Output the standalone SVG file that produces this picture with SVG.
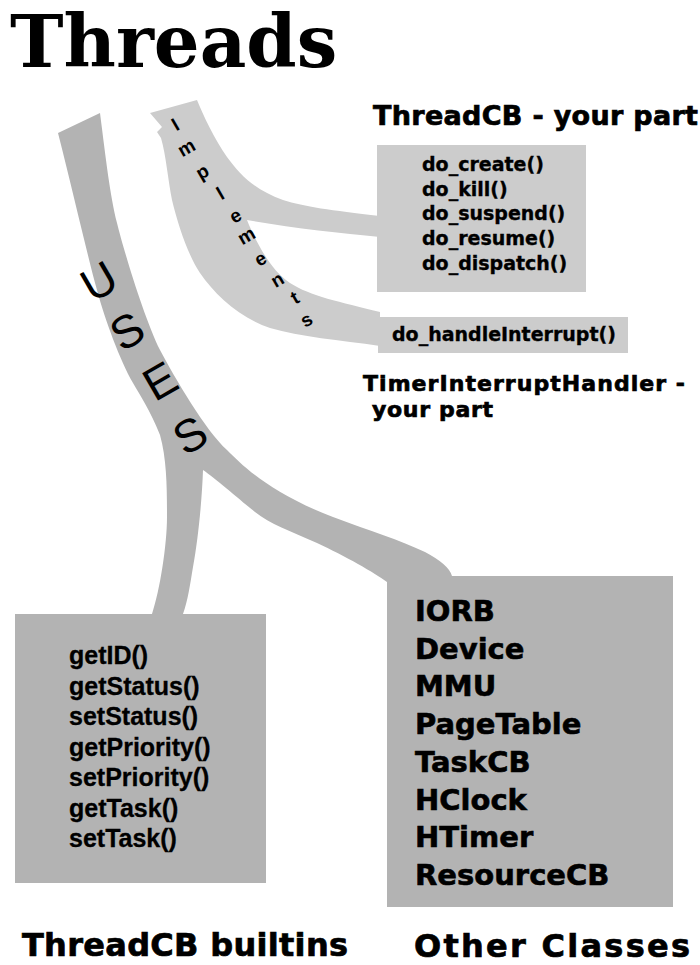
<svg xmlns="http://www.w3.org/2000/svg" width="700" height="965" viewBox="0 0 700 965">
  <style>
    .title { font-family: "DejaVu Serif", "Liberation Serif", serif; font-weight: bold; font-size: 72px; fill: #000; }
    .head { font-family: "DejaVu Sans", "Liberation Sans", sans-serif; font-weight: bold; fill: #000; stroke: #000; stroke-width: 0.7px; }
    .meth { font-family: "DejaVu Sans", "Liberation Sans", sans-serif; font-weight: bold; font-size: 19px; fill: #000; stroke: #000; stroke-width: 0.35px; }
    .api { font-family: "Liberation Sans", Arial, sans-serif; font-weight: bold; font-size: 25px; fill: #000; stroke: #000; stroke-width: 0.3px; }
    .cls { font-family: "DejaVu Sans", "Liberation Sans", sans-serif; font-weight: bold; font-size: 29px; fill: #000; stroke: #000; stroke-width: 0.6px; }
    .light { fill: #cccccc; }
    .dark { fill: #b3b3b3; }
    .impl { font-family: "Liberation Sans", Arial, sans-serif; font-weight: bold; font-size: 19px; fill: #000; text-anchor: middle; }
    .uses { font-family: "Liberation Sans", Arial, sans-serif; font-size: 46px; fill: #000; text-anchor: middle; }
  </style>

  <text id="title" class="title" x="10" y="67">Threads</text>

  <!-- ribbons linking the classes -->
  <g id="connectors">
    <!-- "USES" ribbon: one trunk splitting to the builtins and the other classes -->
    <path id="uses-band" class="dark" d="M58,133 L100,113
      C106,160 110,195 117,223
      C125,255 145,320 160,350
      C175,378 205,430 227,450
      C243,466 270,493 333,517
      C370,531 400,540 425,552
      C440,560 450,568 452,576
      L452,600 L387,600 L387,582
      C375,573 345,556 317,543
      C290,531 270,524 255,512
      C240,500 215,478 203,470
      C202,500 198,540 193,567
      C190,585 188,600 183,614
      L183,620 L150,620 L152,614
      C160,590 167,545 167,517
      C167,490 167,460 160,435
      C150,410 140,395 133,383
      C120,360 105,320 97,290
      C88,258 75,200 58,133 Z"/>
    <!-- "Implements" ribbon: forks to ThreadCB and TimerInterruptHandler -->
    <path id="implements-band" class="light" d="M150,113 L197,100
      C203,115 215,140 227,157
      C240,175 255,190 283,200
      C305,207 330,210 380,216
      L380,237
      C340,233 290,228 247,220
      C255,240 270,270 290,283
      C310,296 340,302 380,312
      L380,346
      C340,340 300,337 270,328
      C240,318 215,295 200,273
      C188,255 178,225 172,200
      C168,180 166,155 161,138
      L157,132 L162,127 Z"/>

    <g id="implements-label">
      <text class="impl" transform="translate(175,124) rotate(-30)" y="7">I</text>
      <text class="impl" transform="translate(187,149) rotate(-30)" y="5">m</text>
      <text class="impl" transform="translate(203,173) rotate(-30)" y="5">p</text>
      <text class="impl" transform="translate(220,193) rotate(-30)" y="7">l</text>
      <text class="impl" transform="translate(236,217) rotate(-30)" y="5">e</text>
      <text class="impl" transform="translate(247,237) rotate(-30)" y="5">m</text>
      <text class="impl" transform="translate(261,260) rotate(-30)" y="5">e</text>
      <text class="impl" transform="translate(278,281) rotate(-30)" y="5">n</text>
      <text class="impl" transform="translate(295,298) rotate(-30)" y="6">t</text>
      <text class="impl" transform="translate(307,321) rotate(-30)" y="5">s</text>
    </g>

    <g id="uses-label">
      <text class="uses" transform="translate(99,281) rotate(-30)" y="16">U</text>
      <text class="uses" transform="translate(127,331) rotate(-30)" y="16">S</text>
      <text class="uses" transform="translate(160,381) rotate(-30)" y="16">E</text>
      <text class="uses" transform="translate(190,435) rotate(-30)" y="16">S</text>
    </g>
  </g>

  <g id="threadcb">
    <text class="head" x="373" y="125" font-size="27" textLength="325">ThreadCB - your part</text>
    <rect class="light" x="377" y="145" width="209" height="147"/>
    <text class="meth" x="422" y="171">do_create()</text>
    <text class="meth" x="422" y="195.7">do_kill()</text>
    <text class="meth" x="422" y="220.4">do_suspend()</text>
    <text class="meth" x="422" y="245.1">do_resume()</text>
    <text class="meth" x="422" y="269.8">do_dispatch()</text>
  </g>

  <g id="timer-handler">
    <rect class="light" x="378" y="317" width="250" height="36"/>
    <text class="meth" x="392" y="341">do_handleInterrupt()</text>
    <text class="head" x="363" y="391" font-size="22" textLength="322">TimerInterruptHandler -</text>
    <text class="head" x="372" y="417" font-size="22" textLength="121">your part</text>
  </g>

  <g id="builtins">
    <rect class="dark" x="15" y="614" width="251" height="269"/>
    <text class="api" x="69" y="664">getID()</text>
    <text class="api" x="69" y="694.5">getStatus()</text>
    <text class="api" x="69" y="725">setStatus()</text>
    <text class="api" x="69" y="755.5">getPriority()</text>
    <text class="api" x="69" y="786">setPriority()</text>
    <text class="api" x="69" y="816.5">getTask()</text>
    <text class="api" x="69" y="847">setTask()</text>
    <text class="head" x="22" y="956" font-size="32" textLength="326">ThreadCB builtins</text>
  </g>

  <g id="other-classes">
    <rect class="dark" x="387" y="576" width="286" height="331"/>
    <text class="cls" x="415" y="621">IORB</text>
    <text class="cls" x="415" y="658.7">Device</text>
    <text class="cls" x="415" y="696.4">MMU</text>
    <text class="cls" x="415" y="734.1">PageTable</text>
    <text class="cls" x="415" y="771.8">TaskCB</text>
    <text class="cls" x="415" y="809.5">HClock</text>
    <text class="cls" x="415" y="847.2">HTimer</text>
    <text class="cls" x="415" y="884.9">ResourceCB</text>
    <text class="head" x="414" y="957" font-size="32" textLength="276">Other Classes</text>
  </g>
</svg>
